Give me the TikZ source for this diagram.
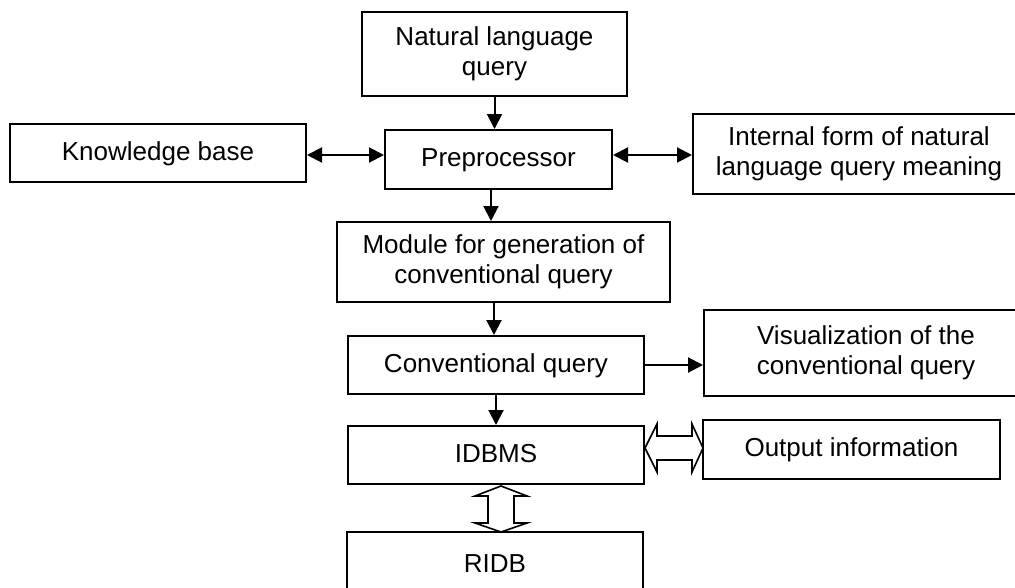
\documentclass[tikz,border=0pt]{standalone}
\usepackage{fontspec}
\setmainfont{Liberation Sans}
\usetikzlibrary{arrows.meta,calc}
\begin{document}
\begin{tikzpicture}[x=1pt,y=-1pt,
  box/.style={draw, line width=2pt, rectangle, inner sep=0pt, align=center,
    font=\fontsize{26}{30}\selectfont},
  oneline/.style={text height=19pt, text depth=5pt},
  arr/.style={line width=2pt, -{Triangle[length=15pt,width=15pt]}},
  darr/.style={line width=2pt, {Triangle[length=15pt,width=15pt]}-{Triangle[length=15pt,width=15pt]}},
  hollow/.style={draw, line width=1.6pt, fill=white, line join=miter}]
\useasboundingbox (0,0) rectangle (1015,587);

\node[box, minimum width=265pt, minimum height=84pt] (nl) at (494.5,54) {Natural language\\query};
\node[box, oneline, minimum width=296pt, minimum height=58pt] (kb) at (158,153) {Knowledge base};
\node[box, oneline, minimum width=227pt, minimum height=59pt] (pre) at (498.5,159.5) {Preprocessor};
\node[box, minimum width=332pt, minimum height=80pt] (int) at (859,154) {Internal form of natural\\language query meaning};
\node[box, minimum width=333pt, minimum height=80pt] (module) at (503.5,262) {Module for generation of\\conventional query};
\node[box, oneline, minimum width=296pt, minimum height=58pt] (cq) at (496,365) {Conventional query};
\node[box, minimum width=324pt, minimum height=86pt] (vis) at (866,353) {Visualization of the\\conventional query};
\node[box, oneline, minimum width=296pt, minimum height=58pt] (idbms) at (496,455) {IDBMS};
\node[box, oneline, minimum width=297pt, minimum height=59pt] (out) at (851.5,449.5) {Output information};
\node[box, oneline, minimum width=296pt, minimum height=66pt] (ridb) at (495,565) {RIDB};

\draw[arr] (nl.south) -- (nl.south |- pre.north);
\draw[darr] ([yshift=-2pt]kb.east) -- ([yshift=-2pt]kb.east -| pre.west);
\draw[darr] ([yshift=4.5pt]pre.east) -- ([yshift=4.5pt]pre.east -| int.west);
\draw[arr] ([xshift=-7.5pt]pre.south) -- ([xshift=-7.5pt]pre.south |- module.north);
\draw[arr] ([xshift=-2pt]cq.north |- module.south) -- ([xshift=-2pt]cq.north);
\draw[arr] (cq.east) -- (cq.east -| vis.west);
\draw[arr] (cq.south) -- (idbms.north);

\draw[hollow] (645,448) -- (657,424) -- (657,436) -- (692,436) -- (692,424) -- (703,448)
  -- (692,472) -- (692,460) -- (657,460) -- (657,472) -- cycle;
\draw[hollow] (501,486) -- (527,496) -- (514,496) -- (514,523) -- (527,523) -- (501,532)
  -- (475,523) -- (488,523) -- (488,496) -- (475,496) -- cycle;
\end{tikzpicture}
\end{document}
